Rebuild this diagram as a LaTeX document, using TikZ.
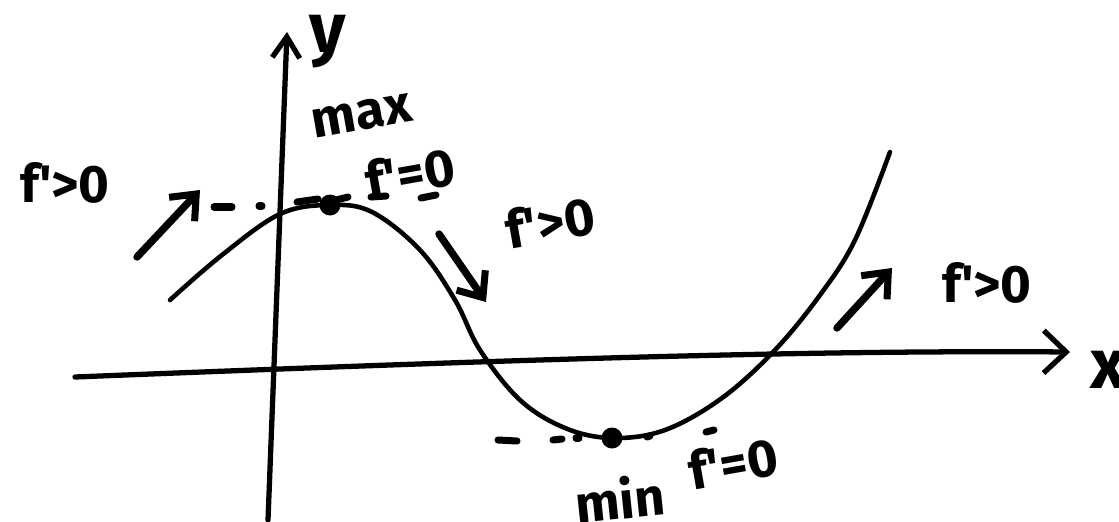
\documentclass[tikz,border=0pt]{standalone}
\usepackage{fontspec}
\setmainfont{Fira Sans}
\usetikzlibrary{arrows.meta}
\newcommand{\pr}{\textquotesingle}
\tikzset{
  axisline/.style={line width=3pt, line cap=round, -{Straight Barb[length=0.45cm, width=0.85cm, line width=3pt]}},
  curveline/.style={line width=2.6pt, line cap=round},
  slopearrow/.style={line width=4.2pt, line cap=round, -{Straight Barb[length=0.42cm, width=0.7cm, line width=4pt]}},
  dashmark/.style={line width=4pt, line cap=round},
  label/.style={inner sep=0pt, font=\fontsize{30}{34}\selectfont\bfseries},
  biglabel/.style={inner sep=0pt, font=\fontsize{40}{44}\selectfont\bfseries},
  extremum/.style={circle, fill=black, inner sep=0pt, minimum size=0.42cm}
}
\begin{document}
\begin{tikzpicture}[x=0.02cm, y=-0.02cm]
\useasboundingbox (0,0) rectangle (1119,521);
% axes
\coordinate (xs) at (75,377);
\coordinate (xe) at (1070,352);
\coordinate (ys) at (268,520);
\coordinate (ye) at (287,32);
\draw[axisline] (xs) .. controls (500,360) and (800,350) .. (xe);
\draw[axisline, -{Straight Barb[length=0.42cm, width=0.55cm, line width=3pt]}] (ys) -- (ye);
\node[biglabel] (ylab) at (328,42) {y};
\node[biglabel, anchor=west] (xlab) at (1090,370) {x};
% curve
\draw[curveline] plot[smooth, tension=0.6] coordinates {(170,300) (222,255) (280,214) (330,205) (372,212) (420,250) (455,300) (480,350) (520,400) (565,428) (612,438) (665,430) (722,398) (775,350) (820,295) (855,240) (890,152)};
\node[extremum] (mx) at (330,205) {};
\node[extremum] (mn) at (612,438) {};
% dashes near max
\coordinate (d1a) at (214,207); \coordinate (d1b) at (232,207);
\coordinate (d2a) at (259,206); \coordinate (d2b) at (262,206);
\coordinate (d3a) at (297,202); \coordinate (d3b) at (318,199);
\coordinate (d4a) at (336,200); \coordinate (d4b) at (348,197);
\coordinate (d5a) at (371,197); \coordinate (d5b) at (386,196);
\coordinate (d6a) at (421,198); \coordinate (d6b) at (436,195);
\foreach \d in {1,...,6} \draw[dashmark] (d\d a) -- (d\d b);
% dashes near min
\coordinate (e1a) at (498,440); \coordinate (e1b) at (517,441);
\coordinate (e2a) at (553,440); \coordinate (e2b) at (562,439);
\coordinate (e3a) at (576,438); \coordinate (e3b) at (579,438);
\coordinate (e4a) at (647,437); \coordinate (e4b) at (650,436);
\coordinate (e5a) at (706,432); \coordinate (e5b) at (714,430);
\foreach \d in {1,...,5} \draw[dashmark] (e\d a) -- (e\d b);
% slope arrows
\coordinate (a1s) at (137,257); \coordinate (a1e) at (200,190);
\coordinate (a2s) at (439,234); \coordinate (a2e) at (486,302);
\coordinate (a3s) at (837,328); \coordinate (a3e) at (892,268);
\draw[slopearrow] (a1s) -- (a1e);
\draw[slopearrow] (a2s) -- (a2e);
\draw[slopearrow] (a3s) -- (a3e);
% labels
\node[label] (l1) at (65,183) {f\pr>0};
\node[label, rotate=10] (lmax) at (362,116) {max};
\node[label, rotate=10] (l2) at (410,173) {f\pr=0};
\node[label, rotate=10] (l3) at (550,222) {f\pr>0};
\node[label] (l4) at (987,283) {f\pr>0};
\node[label, rotate=6] (lmin) at (620,498) {min};
\node[label, rotate=10] (l5) at (733,463) {f\pr=0};
\end{tikzpicture}
\end{document}
